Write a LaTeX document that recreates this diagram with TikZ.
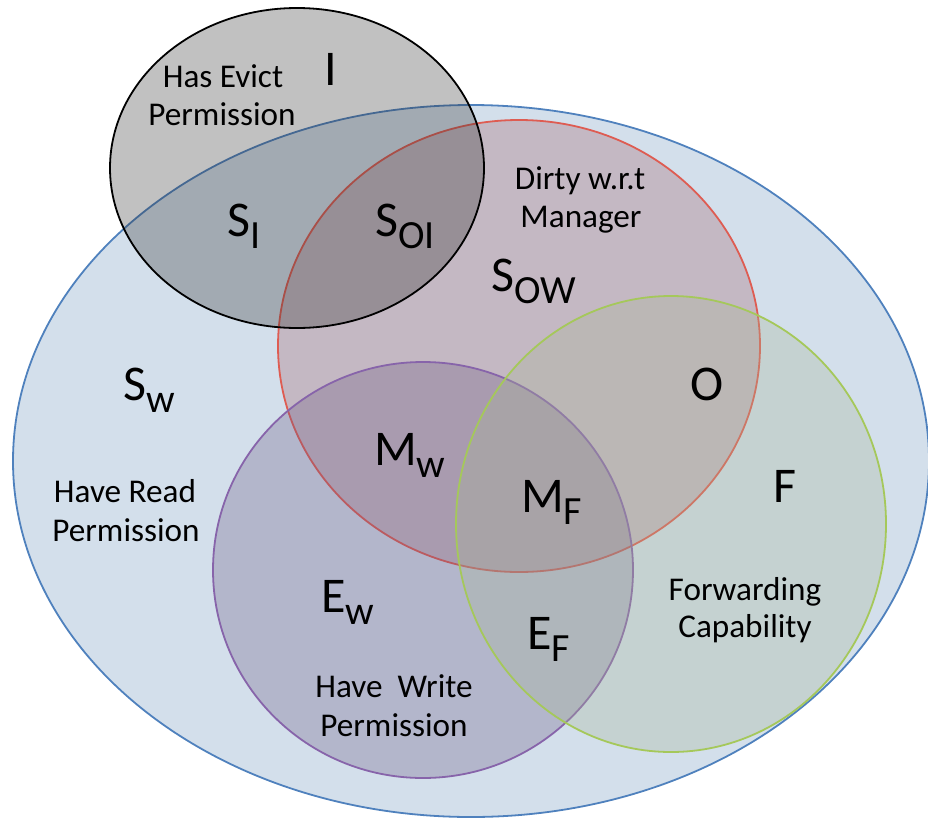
\documentclass[tikz,border=0pt]{standalone}
\usepackage{fontspec}
\setmainfont{Carlito}
\definecolor{readfill}{RGB}{211,223,235}
\definecolor{readline}{RGB}{79,129,189}
\definecolor{evictfill}{RGB}{49,49,49}
\definecolor{dirtyfill}{RGB}{163,95,104}
\definecolor{dirtyline}{RGB}{222,92,82}
\definecolor{writefill}{RGB}{107,89,131}
\definecolor{writeline}{RGB}{135,100,170}
\definecolor{fwdfill}{RGB}{167,182,151}
\definecolor{fwdline}{RGB}{165,200,90}
\newcommand{\lowsub}[1]{\raisebox{-12pt}{\fontsize{40}{48}\selectfont #1}}
\tikzset{
  setshape/.style={line width=1.8pt},
  statelbl/.style={inner sep=0pt, anchor=base west, font=\fontsize{50}{60}\selectfont},
  statechar/.style={inner sep=0pt, anchor=base, font=\fontsize{50}{60}\selectfont},
  note/.style={inner sep=0pt, anchor=base, font=\fontsize{33.2}{40}\selectfont}
}
\begin{document}
\begin{tikzpicture}[x=1pt, y=-1pt]
\useasboundingbox (0,0) rectangle (928,822);

% read permission (outer set)
\path[setshape, fill=readfill, draw=readline]
  (471,461) ellipse [x radius=458pt, y radius=356pt];
% dirty w.r.t. manager
\path[setshape, fill=dirtyfill, fill opacity=0.3, draw=dirtyline]
  (519,346) ellipse [x radius=241pt, y radius=226pt];
% write permission
\path[setshape, fill=writefill, fill opacity=0.3, draw=writeline]
  (423,570) ellipse [x radius=210pt, y radius=208pt];
% forwarding capability
\path[setshape, fill=fwdfill, fill opacity=0.3, draw=fwdline]
  (671,524) ellipse [x radius=215pt, y radius=228pt];
% evict permission
\path[setshape, fill=evictfill, fill opacity=0.3, draw=black]
  (297,168) ellipse [x radius=187pt, y radius=160pt];

% set descriptions
\node[note] (evict1) at (223,87) {Has Evict};
\node[note] (evict2) at (222,125) {Permission};
\node[note] (dirty1) at (580,189) {Dirty w.r.t};
\node[note] (dirty2) at (581,227) {Manager};
\node[note] (read1) at (125,502) {Have Read};
\node[note] (read2) at (126,541) {Permission};
\node[note] (fwd1) at (745,600) {Forwarding};
\node[note] (fwd2) at (745,637) {Capability};
\node[note] (write1) at (394,697) {Have\ \ Write};
\node[note] (write2) at (394,736) {Permission};

% state labels
\node[statechar] (stI) at (331,85) {I};
\node[statelbl] (stSI) at (227,236) {S\lowsub{I}};
\node[statelbl] (stSOI) at (375,236) {S\lowsub{OI}};
\node[statelbl] (stSOW) at (491,291) {S\lowsub{OW}};
\node[statelbl] (stSw) at (123,400) {S\lowsub{w}};
\node[statelbl] (stMw) at (374,465) {M\lowsub{w}};
\node[statelbl] (stMF) at (521,512) {M\lowsub{F}};
\node[statechar] (stO) at (707,400) {O};
\node[statechar] (stF) at (785,502) {F};
\node[statelbl] (stEw) at (321,612) {E\lowsub{w}};
\node[statelbl] (stEF) at (527,649) {E\lowsub{F}};
\end{tikzpicture}
\end{document}
